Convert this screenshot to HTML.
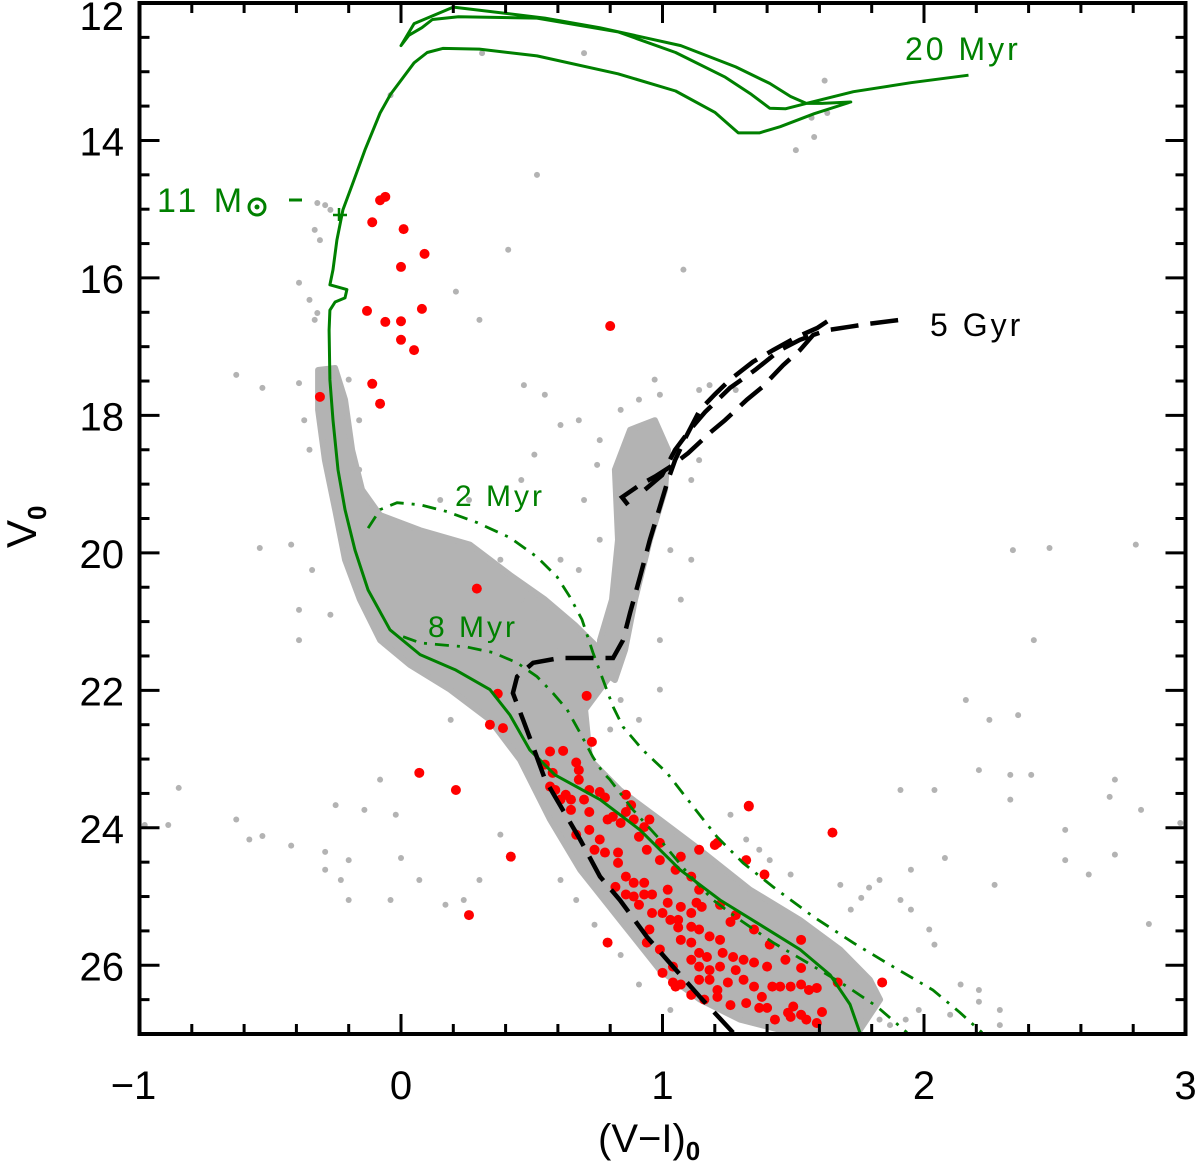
<!DOCTYPE html>
<html><head><meta charset="utf-8"><style>
html,body{margin:0;padding:0;background:#fff;}
svg{display:block;font-family:"Liberation Sans",sans-serif;}
</style></head><body>
<svg id="chart" width="1200" height="1164" viewBox="0 0 1200 1164" xmlns="http://www.w3.org/2000/svg">
<defs><clipPath id="clip"><rect x="139" y="3" width="1047" height="1031"/></clipPath></defs>
<g id="dense" clip-path="url(#clip)"></g>
<g id="gray" clip-path="url(#clip)"></g>
<g id="red" clip-path="url(#clip)"></g>
<g id="iso" clip-path="url(#clip)"></g>
<g id="axes"></g>
</svg>
<script>
// axis ranges
const xDomain=[-1,3], yDomain=[12,27];
const xTicks=[-1,0,1,2,3], yTicks=[12,14,16,18,20,22,24,26];
const xTickLabels=["\u22121","0","1","2","3"], yTickLabels=["12","14","16","18","20","22","24","26"];
// isochrone 20 Myr (solid)
const iso20x=[1.755,1.717,1.641,1.526,1.373,1.220,1.067,0.914,0.761,0.589,0.493,0.417,0.340,0.207,0.073,-0.042,-0.126,-0.176,-0.214,-0.241,-0.260,-0.272,-0.275,-0.272,-0.252,-0.214,-0.207,-0.272,-0.260,-0.245,-0.222,-0.187,-0.138,-0.08,-0.04,0.05,0.10,0.16,0.30,0.52,0.83,1.05,1.20,1.29,1.37,1.45,1.58,1.72,1.61,1.55,1.49,1.41,1.28,1.07,0.76,0.55,0.20,0.05,0.0,0.03,0.08,0.12,0.22,0.52,0.83,1.05,1.24,1.34,1.41,1.47,1.55,1.73,1.95,2.17];
const iso20y=[26.98,26.57,26.14,25.77,25.41,25.05,24.61,24.03,23.59,23.23,22.87,22.36,21.99,21.70,21.48,21.12,20.54,19.96,19.37,18.79,18.07,17.48,16.76,16.47,16.35,16.29,16.17,16.10,15.88,15.45,15.01,14.65,14.14,13.60,13.33,12.87,12.72,12.66,12.67,12.77,13.03,13.28,13.59,13.89,13.89,13.80,13.61,13.44,13.46,13.46,13.36,13.17,12.93,12.62,12.36,12.22,12.06,12.30,12.62,12.47,12.36,12.24,12.20,12.22,12.42,12.72,13.08,13.33,13.53,13.54,13.46,13.29,13.16,13.05];
// 2 Myr
const iso2x=[-0.126,-0.080,-0.015,0.073,0.176,0.291,0.417,0.520,0.597,0.646,0.692,0.734,0.773,0.811,0.849,0.925,1.017,1.117,1.208,1.308,1.423,1.576,1.728,1.881,2.034,2.138,2.222];
const iso2y=[19.64,19.37,19.27,19.30,19.40,19.56,19.78,20.06,20.35,20.64,20.97,21.45,21.85,22.24,22.53,22.87,23.20,23.69,24.13,24.51,24.86,25.29,25.67,26.02,26.36,26.69,26.98];
// 8 Myr
const iso8x=[0.008,0.073,0.161,0.252,0.352,0.444,0.520,0.581,0.635,0.685,0.734,0.773,0.799,0.887,0.990,1.094,1.193,1.296,1.423,1.553,1.706,1.820,1.935];
const iso8y=[21.22,21.31,21.34,21.37,21.45,21.60,21.80,22.04,22.28,22.62,22.97,23.20,23.30,23.74,24.17,24.65,25.05,25.34,25.67,25.96,26.31,26.60,26.98];
// 5 Gyr branches
const gyrAx=[1.270,1.143,1.040,0.941,0.837,0.761,0.685,0.608,0.551,0.505,0.467,0.428,0.444,0.505,0.608,0.734,0.811,0.849,0.876,0.914,0.952,0.990,1.021,1.048,1.090,1.143,1.201,1.258,1.346,1.423,1.514,1.591,1.667];
const gyrAy=[26.98,26.46,26.02,25.59,25.05,24.71,24.17,23.67,23.30,22.82,22.43,22.04,21.80,21.60,21.53,21.53,21.53,21.27,20.87,20.35,19.81,19.33,18.94,18.65,18.31,17.92,17.69,17.48,17.22,17.05,16.86,16.73,16.54];
const gyrBx=[0.868,0.845,0.914,0.971,1.029,1.098,1.182,1.239,1.323,1.381,1.461,1.526,1.576,1.629,1.717,1.782,1.908];
const gyrBy=[19.30,19.19,19.01,18.89,18.75,18.55,18.25,18.07,17.77,17.59,17.27,17.05,16.83,16.76,16.71,16.67,16.61];
const gyrCx=[0.933,0.998,1.048,1.105,1.163,1.258,1.354,1.449,1.526,1.576];
const gyrCy=[19.08,18.87,18.50,18.21,17.95,17.60,17.34,17.05,16.90,16.83];
// dense regions
const denseMSx=[-0.317,-0.252,-0.214,-0.187,-0.149,-0.080,0.073,0.264,0.417,0.551,0.665,0.761,0.818,0.761,0.704,0.723,0.837,0.990,1.143,1.335,1.526,1.679,1.793,1.832,1.755,1.449,1.296,1.143,0.990,0.837,0.685,0.570,0.455,0.340,0.187,0.034,-0.080,-0.157,-0.214,-0.252,-0.291,-0.317];
const denseMSy=[17.34,17.31,17.77,18.50,19.08,19.45,19.67,19.88,20.32,20.68,21.05,21.41,21.70,21.99,22.28,23.01,23.45,23.88,24.32,24.90,25.34,25.77,26.21,26.50,26.94,26.94,26.79,26.50,26.07,25.34,24.61,23.88,23.01,22.43,21.99,21.63,21.27,20.68,20.10,19.37,18.65,17.92];
const denseRGBx=[0.761,0.807,0.830,0.818,0.876,0.971,1.021,1.010,0.952,0.895,0.857,0.818,0.761];
const denseRGBy=[21.27,20.68,19.81,18.79,18.21,18.07,18.50,19.08,19.81,20.68,21.41,21.85,21.70];
// sparse field stars
const grayX=[0.31,0.70,-0.04,1.62,1.63,1.57,1.58,1.51,0.52,0.41,0.21,-0.29,-0.27,-0.32,-0.33,-0.31,-0.39,-0.35,-0.32,-0.33,-0.63,-0.53,-0.39,1.14,1.18,1.28,0.97,0.84,0.91,0.99,1.14,1.11,0.76,0.75,0.70,0.61,0.46,1.08,-0.85,-0.89,-0.98,-0.63,-0.53,-0.42,-0.29,-0.20,-0.29,-0.23,-0.20,0.07,0.00,-0.04,0.17,0.24,0.30,0.38,-0.58,-0.25,-0.14,-0.02,-0.39,-0.34,-0.54,-0.42,-0.39,-0.27,0.15,0.26,0.46,0.51,0.55,0.47,0.30,0.61,0.68,-0.08,2.34,2.48,2.81,2.42,2.16,2.36,2.25,2.21,2.33,2.41,2.04,2.33,2.73,2.71,2.83,2.98,2.54,2.73,2.54,2.27,2.63,2.86,2.08,1.91,1.95,1.76,1.72,1.37,1.26,1.68,1.79,1.83,1.91,1.95,2.02,2.04,2.14,2.21,2.21,2.29,2.29,2.10,1.98,1.93,1.87,
0.61,0.67,0.74,0.84,0.91,1.03,1.83,1.76,1.49,1.41,1.32,-0.20,-0.16,-0.37,-0.35,-0.16,-0.02,0.15,0.38,0.53,0.61,0.84,0.91,0.80,0.99,1.07,1.11,1.03,0.76,0.68,0.99,0.26,0.19,0.53];
const grayY=[12.73,12.73,13.34,13.13,13.60,13.67,13.95,14.14,14.50,15.59,16.20,14.94,15.01,14.91,15.30,15.45,16.07,16.32,16.51,16.61,17.41,17.60,17.53,17.63,17.56,17.63,17.48,17.92,17.77,17.70,18.65,18.94,18.36,18.72,19.23,20.10,20.68,15.88,23.42,23.96,23.96,23.88,24.12,24.26,24.35,24.47,24.61,24.76,25.05,24.76,24.44,25.05,25.12,25.05,24.76,24.10,24.17,23.67,23.74,23.81,21.27,20.25,19.93,19.88,20.83,20.90,19.23,19.23,18.94,18.57,17.70,17.56,16.61,18.14,18.07,23.30,19.96,19.93,19.88,21.27,22.14,22.36,22.43,23.16,23.23,23.23,23.45,23.59,23.30,23.55,23.74,23.93,24.03,24.39,24.47,24.83,24.68,25.40,24.44,23.45,24.61,25.02,25.19,24.32,23.81,24.83,24.87,24.76,25.05,25.19,25.48,25.70,26.28,26.36,26.53,26.65,26.87,26.72,26.65,26.79,26.87,
24.76,25.05,25.41,25.85,26.28,26.65,26.79,26.65,24.68,24.47,24.17,17.48,18.07,18.07,18.50,18.79,19.81,20.10,20.10,20.97,21.41,22.14,22.43,22.57,21.99,20.68,20.10,19.96,19.81,20.25,21.27,22.14,22.43,21.27];
// selected (red) stars
const redX=[-0.08,-0.06,-0.11,0.01,0.00,0.09,-0.13,-0.06,0.00,0.08,0.00,0.05,-0.11,-0.08,-0.31,0.80,0.29,0.37,0.34,0.39,0.71,0.73,0.07,0.57,0.62,0.55,0.58,0.67,0.68,0.21,0.42,0.26,1.33,1.65,1.20,1.32,1.39,0.79,0.76,0.79,0.81,0.84,0.78,0.83,0.93,0.91,0.94,0.99,1.21,1.33,0.83,0.86,0.89,0.82,0.93,0.93,0.89,0.96,1.02,1.11,1.02,1.07,0.96,1.00,1.06,1.03,1.13,1.15,1.11,1.06,1.11,1.14,1.18,1.22,1.07,1.11,1.26,1.14,1.17,1.23,1.27,1.31,1.14,1.18,1.22,1.28,1.35,1.40,1.53,1.04,1.00,1.07,1.05,1.14,1.18,1.21,1.25,1.31,1.35,1.38,1.42,1.45,1.49,1.53,1.59,1.67,1.84,1.21,1.32,1.37,1.40,1.48,1.50,1.49,1.55,1.59,1.61,0.94,1.04,0.61,0.65,0.70,0.72,0.67,0.74,0.63,0.57,0.68,0.88,0.86,0.95,1.07,1.14,
0.59,0.65,0.72,0.78,0.86,0.89,0.72,0.76,0.99,1.05,1.14,1.22,1.28,1.35,1.41,1.47,1.53,1.56,0.99,0.95,0.91,0.86,1.11,1.16,1.26,1.43,1.53,1.11];
const redY=[14.87,14.82,15.19,15.29,15.84,15.65,16.48,16.64,16.63,16.45,16.90,17.05,17.54,17.83,17.73,16.70,20.52,22.05,22.50,22.55,22.08,22.75,23.20,22.89,22.88,23.08,23.20,23.05,23.16,23.45,24.42,25.27,23.68,24.07,24.25,24.47,24.68,25.67,23.48,23.88,23.84,23.93,24.36,24.36,23.99,24.13,24.32,24.22,24.22,23.69,24.51,24.71,24.80,24.86,24.80,24.97,25.00,24.97,24.90,24.71,25.09,25.15,25.24,25.24,25.34,25.34,25.09,25.15,25.24,25.45,25.44,25.48,25.58,25.63,25.63,25.67,25.37,25.82,25.88,25.82,25.88,25.92,26.02,26.07,26.02,26.07,25.96,26.02,25.63,26.02,26.11,26.28,26.31,26.21,26.21,26.36,26.25,26.21,26.31,26.46,26.31,26.31,26.31,26.28,26.33,26.25,26.25,26.46,26.55,26.62,26.62,26.69,26.60,26.75,26.79,26.84,26.68,25.67,26.25,23.59,23.74,23.59,23.45,24.10,24.32,23.52,23.40,23.30,23.67,23.52,23.88,24.42,24.32,
23.45,23.59,23.77,23.56,23.77,23.88,24.03,24.17,24.47,24.61,24.90,25.12,25.27,25.48,25.70,25.92,26.04,26.36,25.77,25.48,25.12,24.97,25.92,26.50,26.58,26.79,26.72,26.43];

const L=139.5,R=1185.5,T=3,B=1034;
function sx(v){return L+(v-xDomain[0])/(xDomain[1]-xDomain[0])*(R-L);}
function sy(v){return T+(v-yDomain[0])/(yDomain[1]-yDomain[0])*(B-T);}
const NS="http://www.w3.org/2000/svg";
function mk(tag,attrs,parent){const e=document.createElementNS(NS,tag);for(const k in attrs)e.setAttribute(k,attrs[k]);parent.appendChild(e);return e;}
function pts(xs,ys){return xs.map((x,i)=>sx(x).toFixed(1)+","+sy(ys[i]).toFixed(1)).join(" ");}

const dense=document.getElementById('dense');
let p=mk('polygon',{points:pts(denseMSx,denseMSy),fill:'#b3b3b3',stroke:'#b3b3b3','stroke-width':6,'stroke-linejoin':'round'},dense);


p=mk('polygon',{points:pts(denseRGBx,denseRGBy),fill:'#b3b3b3',stroke:'#b3b3b3','stroke-width':6,'stroke-linejoin':'round'},dense);



const gray=document.getElementById('gray');
grayX.forEach((x,i)=>{const c=mk('circle',{cx:sx(x),cy:sy(grayY[i]),r:3,fill:'#b3b3b3'},gray);

});
const red=document.getElementById('red');
redX.forEach((x,i)=>{const c=mk('circle',{cx:sx(x),cy:sy(redY[i]),r:5,fill:'#ff0000'},red);

});

const iso=document.getElementById('iso');
let l=mk('polyline',{points:pts(iso2x,iso2y),fill:'none',stroke:'#008000','stroke-width':2.8,'stroke-dasharray':'14 8 3 8'},iso);


l=mk('polyline',{points:pts(iso8x,iso8y),fill:'none',stroke:'#008000','stroke-width':2.8,'stroke-dasharray':'14 8 3 8'},iso);


l=mk('polyline',{points:pts(iso20x,iso20y),fill:'none',stroke:'#008000','stroke-width':3,'stroke-linejoin':'round'},iso);


[[gyrAx,gyrAy],[gyrBx,gyrBy],[gyrCx,gyrCy]].forEach(([xs,ys])=>{
 const g=mk('polyline',{points:pts(xs,ys),fill:'none',stroke:'#000','stroke-width':4.5,'stroke-dasharray':'28 12'},iso);
 
 
});

const axes=document.getElementById('axes');
let fr=mk('rect',{x:L,y:T,width:R-L,height:B-T,fill:'none',stroke:'#000','stroke-width':4},axes);


for(let v=-1;v<=3.001;v+=0.2){const X=sx(v);const major=Math.abs(v-Math.round(v))<0.01;const len=major?20:10;
 mk('line',{x1:X,y1:B,x2:X,y2:B-len,stroke:'#000','stroke-width':3},axes);
 mk('line',{x1:X,y1:T,x2:X,y2:T+len,stroke:'#000','stroke-width':3},axes);}
for(let v=12;v<=27.001;v+=0.5){const Y=sy(v);const major=Math.abs(v/2-Math.round(v/2))<0.01;const len=major?20:10;
 mk('line',{x1:L,y1:Y,x2:L+len,y2:Y,stroke:'#000','stroke-width':3},axes);
 mk('line',{x1:R,y1:Y,x2:R-len,y2:Y,stroke:'#000','stroke-width':3},axes);}
xTicks.forEach((v,i)=>{const t=mk('text',{x:sx(v)+(i==0?-6:0),y:1099,'text-anchor':'middle','font-size':40},axes);t.textContent=xTickLabels[i];
 
 });
yTicks.forEach((v,i)=>{const yy=i==0?sy(v)+27:sy(v)+15;const t=mk('text',{x:124,y:yy,'text-anchor':'end','font-size':40},axes);t.textContent=yTickLabels[i];
 
 });
</script>
<svg style="position:absolute;left:0;top:0" width="1200" height="1164">
<text x="598" y="1152" font-family="Liberation Sans, sans-serif" font-size="40">(V−I)<tspan font-size="26" dy="8" font-weight="bold">0</tspan></text>
<g transform="translate(36,548) rotate(-90)"><text x="0" y="0" font-family="Liberation Sans, sans-serif" font-size="42">V<tspan font-size="26" dy="10" font-weight="bold">0</tspan></text></g>
<text x="905" y="60" fill="#008000" font-family="Liberation Sans, sans-serif" font-size="32" letter-spacing="3">20 Myr</text>
<text x="930" y="336" fill="#000" font-family="Liberation Sans, sans-serif" font-size="32" letter-spacing="3">5 Gyr</text>
<text x="455" y="506" fill="#008000" font-family="Liberation Sans, sans-serif" font-size="30" letter-spacing="3">2 Myr</text>
<text x="428" y="637" fill="#008000" font-family="Liberation Sans, sans-serif" font-size="30" letter-spacing="3">8 Myr</text>
<g fill="#008000">
<text x="157" y="212" font-family="Liberation Sans, sans-serif" font-size="34" letter-spacing="4">11 M</text>
<circle cx="257" cy="207" r="8" fill="none" stroke="#008000" stroke-width="3"/>
<circle cx="257" cy="207" r="2.5"/>
<line x1="289" y1="200" x2="302" y2="200" stroke="#008000" stroke-width="3"/>
<line x1="333" y1="215" x2="347" y2="215" stroke="#008000" stroke-width="2.5"/>
<line x1="339" y1="208" x2="339" y2="221" stroke="#008000" stroke-width="2.5"/>
</g>
</svg>
</body></html>
